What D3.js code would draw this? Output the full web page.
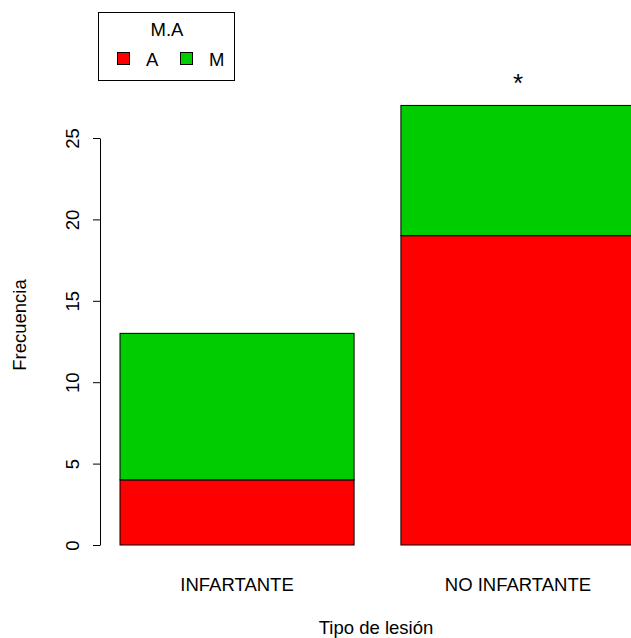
<!DOCTYPE html>
<html>
<head>
<meta charset="utf-8">
<script src="https://cdn.jsdelivr.net/npm/d3@7"></script>
<style>
  body { margin: 0; background: #fff; }
  svg { display: block; font-family: "Liberation Sans", Arial, sans-serif; }
</style>
</head>
<body>
<div id="chart"></div>
<script>
// data
const categories = ["INFARTANTE", "NO INFARTANTE"];
const groups = ["A", "M"];
const valuesA = [4, 19];
const valuesM = [9, 8];
const yTicks = [0, 5, 10, 15, 20, 25];
const groupColors = ["#ff0000", "#00cd00"];

const width = 631, height = 638;
const fs = 18.5;

const svg = d3.select("#chart").append("svg")
    .attr("width", width)
    .attr("height", height);

const xScale = d3.scaleBand()
    .domain(categories)
    .range([120, 635])
    .paddingInner(0.2 / 1.2)
    .paddingOuter(0);

const yScale = d3.scaleLinear()
    .domain([0, 25])
    .range([545, 138]);

// stack rows
let rows = categories.map((c, i) => ({ cat: c, A: valuesA[i], M: valuesM[i] }));
const stacked = d3.stack().keys(groups)(rows);

svg.append("g")
    .selectAll("g")
    .data(stacked)
    .join("g")
    .attr("fill", (d, i) => groupColors[i])
    .selectAll("rect")
    .data(d => d)
    .join("rect")
    .attr("x", d => xScale(d.data.cat))
    .attr("y", d => yScale(d[1]))
    .attr("width", xScale.bandwidth())
    .attr("height", d => yScale(d[0]) - yScale(d[1]))
    .attr("stroke", "#000")
    .attr("stroke-width", 1);

// y axis, R style
const yAxis = d3.axisLeft(yScale)
    .tickValues(yTicks)
    .tickSize(7)
    .tickSizeOuter(0)
    .tickPadding(0);

const gy = svg.append("g")
    .attr("transform", "translate(100,0)")
    .call(yAxis);
gy.select(".domain").attr("stroke", "#000");
gy.selectAll(".tick line").attr("stroke", "#000");
gy.selectAll(".tick text")
    .attr("x", 0)
    .attr("dy", 0)
    .attr("font-size", fs)
    .attr("fill", "#000")
    .attr("text-anchor", "middle")
    .attr("transform", "translate(-28,0) rotate(-90)")
    .attr("y", 0)
    .attr("dominant-baseline", "central");

// category labels
svg.append("g")
    .selectAll("text")
    .data(categories)
    .join("text")
    .attr("x", d => xScale(d) + xScale.bandwidth() / 2)
    .attr("y", 591)
    .attr("text-anchor", "middle")
    .attr("font-size", fs)
    .text(d => d);

// asterisk over the second bar
svg.append("text")
    .attr("x", xScale(categories[1]) + xScale.bandwidth() / 2)
    .attr("y", 92)
    .attr("text-anchor", "middle")
    .attr("font-size", 26)
    .text("*");

// axis titles
svg.append("text")
    .attr("x", 376)
    .attr("y", 634)
    .attr("text-anchor", "middle")
    .attr("font-size", fs)
    .text("Tipo de lesión");

svg.append("text")
    .attr("transform", "translate(26,325) rotate(-90)")
    .attr("text-anchor", "middle")
    .attr("font-size", fs)
    .text("Frecuencia");

// legend
const legend = svg.append("g");
legend.append("rect")
    .attr("x", 98.5).attr("y", 12.5)
    .attr("width", 136).attr("height", 68)
    .attr("fill", "none")
    .attr("stroke", "#000");
legend.append("text")
    .attr("x", 167).attr("y", 36)
    .attr("text-anchor", "middle")
    .attr("font-size", fs)
    .text("M.A");

const legX = [117, 180];
legend.selectAll(".key")
    .data(groups)
    .join("rect")
    .attr("x", (d, i) => legX[i] + 0.5)
    .attr("y", 52.5)
    .attr("width", 12).attr("height", 12)
    .attr("fill", (d, i) => groupColors[i])
    .attr("stroke", "#000");
legend.selectAll(".lab")
    .data(groups)
    .join("text")
    .attr("x", (d, i) => legX[i] + 29)
    .attr("y", 66)
    .attr("font-size", fs)
    .text(d => d);
</script>
</body>
</html>
